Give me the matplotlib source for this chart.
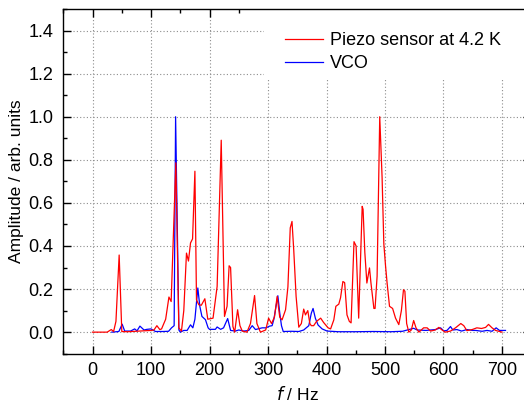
import numpy as np
import matplotlib
matplotlib.use("Agg")
import matplotlib.pyplot as plt
from matplotlib.patches import Rectangle
from matplotlib.ticker import MultipleLocator

plt.rcParams['font.family'] = ['Liberation Sans', 'DejaVu Sans']

# piezo sensor spectrum (Hz, normalised amplitude)
piezo_f = [0, 25, 32, 36, 40, 45.5, 50, 60, 80, 100, 105, 110, 115, 118, 125, 130.6, 134.4, 142.4,
           147.5, 152, 156, 160.6, 164, 167.5, 171, 175, 177.7, 181.7, 186, 192, 197, 206, 213, 220,
           225.6, 230, 233.5, 236, 240, 243, 248, 252, 256, 264, 270, 277, 281, 287, 296, 301, 306,
           311, 315.6, 320, 324, 330, 334, 338, 341, 344, 348, 352.6, 357, 361, 364, 368, 371.5, 374,
           378, 383, 390, 395, 402.7, 407, 412.5, 416, 421, 424, 428, 431, 435, 439, 442, 447, 450.6,
           455, 461, 462.5, 465.5, 469, 473.5, 476, 481, 483, 486.5, 491, 495, 498, 501, 503.6, 507.7,
           513, 518, 523.6, 528, 531.6, 534, 537, 540.7, 545, 549, 553, 558, 566, 572, 578, 586, 592,
           597.6, 603, 612, 620.5, 629.6, 634.7, 640, 649, 657, 665, 672, 677, 683, 689, 694.5, 700]
piezo_a = [0, 0, 0.012, 0.003, 0.05, 0.358, 0.003, 0.002, 0.005, 0.008, 0.01, 0.03, 0.012, 0.015,
           0.06, 0.163, 0.142, 0.786, 0.02, 0.005, 0.1, 0.367, 0.33, 0.414, 0.433, 0.747, 0.15, 0.127,
           0.125, 0.155, 0.06, 0.065, 0.212, 0.891, 0.073, 0.12, 0.308, 0.3, 0.026, 0.0, 0.104, 0.03,
           0.005, 0.0, 0.04, 0.17, 0.04, 0.0, 0.01, 0.065, 0.04, 0.07, 0.166, 0.07, 0.057, 0.104, 0.21,
           0.484, 0.514, 0.38, 0.166, 0.023, 0.04, 0.107, 0.08, 0.1, 0.04, 0.03, 0.03, 0.05, 0.065,
           0.045, 0.02, 0.015, 0.057, 0.12, 0.13, 0.16, 0.235, 0.23, 0.08, 0.05, 0.043, 0.42, 0.4,
           0.065, 0.584, 0.57, 0.37, 0.228, 0.298, 0.228, 0.11, 0.11, 0.26, 1.0, 0.72, 0.41, 0.305,
           0.228, 0.12, 0.11, 0.065, 0.035, 0.1, 0.197, 0.19, 0.04, 0.0, 0.01, 0.054, 0.02, 0.0, 0.02,
           0.02, 0.005, 0.01, 0.022, 0.01, 0.0, 0.005, 0.02, 0.04, 0.03, 0.007, 0.012, 0.02, 0.017,
           0.022, 0.036, 0.02, 0.008, 0.004, 0.0]

# VCO spectrum
vco_f = [33, 45, 50.6, 55, 65, 72, 76, 81, 88, 93, 100, 107.6, 120, 130, 135, 139.5, 142, 147.6, 150,
         156, 161.7, 167.5, 171.5, 175, 180, 183.4, 187, 193, 197.6, 200, 210, 213, 219, 224, 231, 236,
         244, 250, 258.6, 267, 273, 278.6, 284, 290, 296.7, 302.6, 307, 310, 316.8, 320, 323, 326, 340,
         352.7, 361, 369.7, 374, 377, 381, 385.6, 392.5, 401, 420, 450, 480, 510, 530, 549, 555, 570,
         586, 595, 600.5, 606, 612, 616, 623, 631, 640, 649, 655, 666, 674.5, 683, 690, 695.7, 706]
vco_a = [0.0, 0.003, 0.037, 0.005, 0.005, 0.015, 0.006, 0.028, 0.01, 0.013, 0.015, 0.003, 0.003, 0.004,
         0.02, 0.03, 1.0, 0.01, 0.0, 0.008, 0.008, 0.034, 0.02, 0.06, 0.205, 0.12, 0.073, 0.058, 0.02,
         0.013, 0.013, 0.024, 0.013, 0.02, 0.063, 0.008, 0.005, 0.01, 0.005, 0.008, 0.03, 0.012, 0.016,
         0.02, 0.02, 0.028, 0.03, 0.06, 0.169, 0.09, 0.03, 0.003, 0.004, 0.003, 0.01, 0.03, 0.088, 0.11,
         0.064, 0.033, 0.015, 0.005, 0.002, 0.002, 0.003, 0.002, 0.004, 0.018, 0.01, 0.008, 0.012, 0.02,
         0.006, 0.008, 0.026, 0.01, 0.012, 0.005, 0.012, 0.008, 0.008, 0.004, 0.008, 0.004, 0.02, 0.008,
         0.008]

fig = plt.figure(figsize=(5.24, 4.05), dpi=100)
# right spine is cut off in the original picture
ax = fig.add_axes([0.1208, 0.1267, 0.893, 0.851])

ax.plot(vco_f, vco_a, color="#0000ff", lw=0.9, label="VCO", zorder=2)
ax.plot(piezo_f, piezo_a, color="#ff0000", lw=0.9, label="Piezo sensor at 4.2 K", zorder=2.1)

ax.set_xlim(-50, 750)
ax.set_ylim(-0.1, 1.5)
ax.xaxis.set_major_locator(MultipleLocator(100))
ax.xaxis.set_minor_locator(MultipleLocator(50))
ax.yaxis.set_major_locator(MultipleLocator(0.2))
ax.yaxis.set_minor_locator(MultipleLocator(0.1))
ax.yaxis.set_major_formatter(matplotlib.ticker.FormatStrFormatter("%.1f"))

ax.tick_params(which="both", direction="in", top=True, right=True, width=1.0, labelsize=13)
ax.tick_params(which="major", length=6)
ax.tick_params(which="minor", length=3)
ax.tick_params(axis="x", pad=6)
ax.tick_params(axis="y", pad=7)
for sp in ax.spines.values():
    sp.set_linewidth(1.0)

ax.grid(True, which="major", color="0.55", linestyle=(0, (1, 2)), linewidth=0.8)

# white area behind the legend
ax.add_patch(Rectangle((293, 1.178), 500, 0.4, facecolor="white", edgecolor="none", zorder=1.8))

h, l = ax.get_legend_handles_labels()
ax.legend(h[::-1], l[::-1], loc="upper left", bbox_to_anchor=(0.455, 0.96), frameon=False,
          fontsize=13, handlelength=2.1, handletextpad=0.4, labelspacing=0.35, borderpad=0)

ax.set_xlabel("$f$ / Hz", fontsize=12.5, labelpad=4)
ax.set_ylabel("Amplitude / arb. units", fontsize=12.5, labelpad=3)

fig.savefig("out.png", dpi=100)
